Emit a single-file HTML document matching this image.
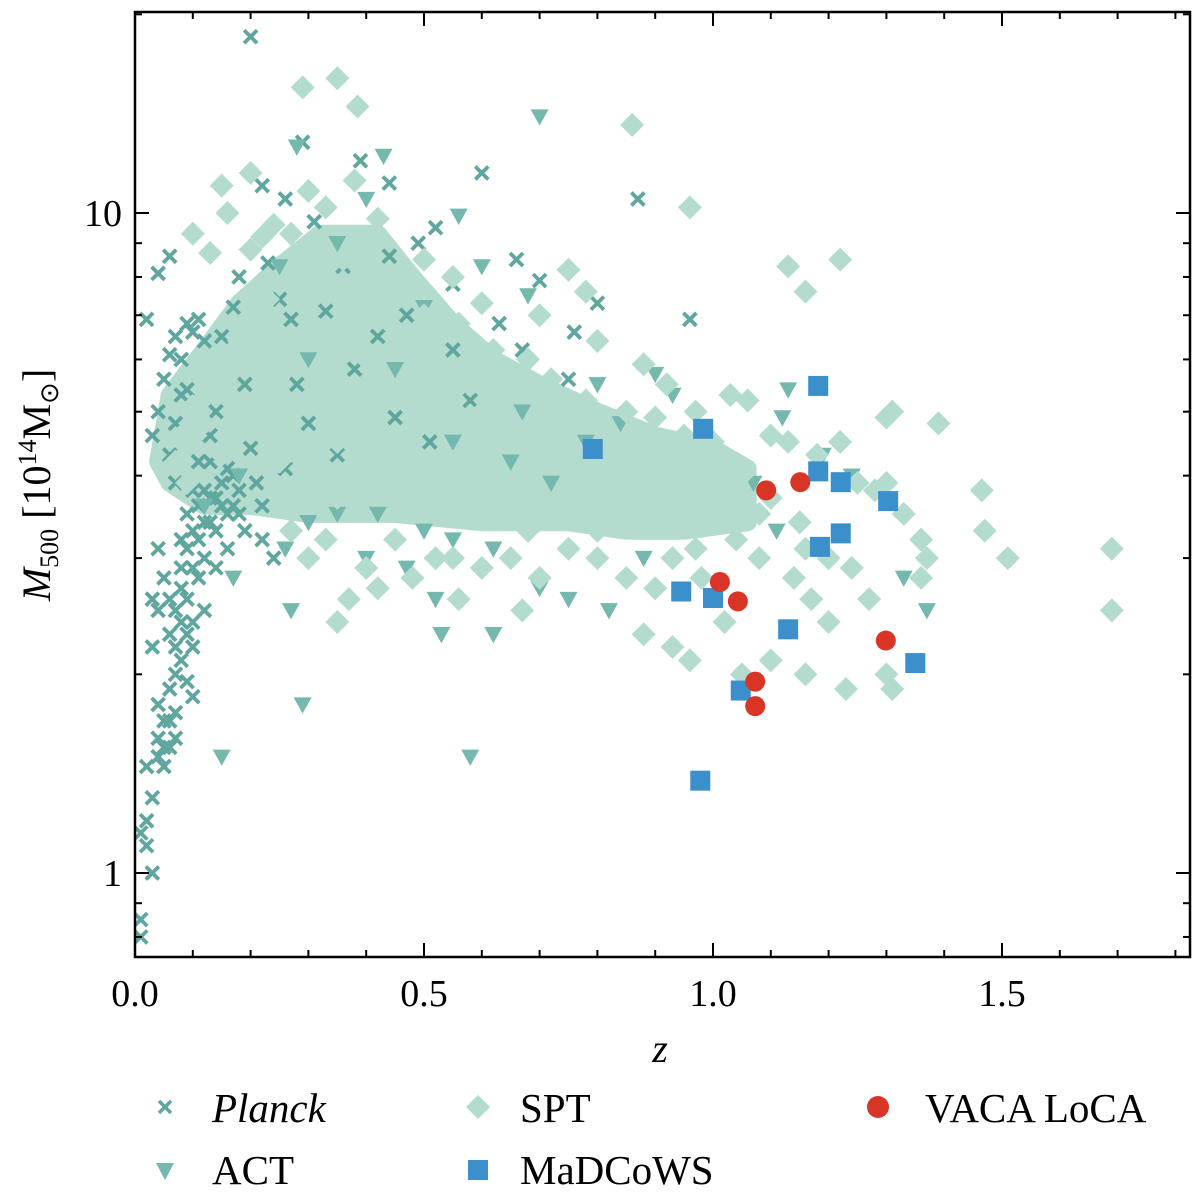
<!DOCTYPE html>
<html><head><meta charset="utf-8"><style>
body{margin:0;background:#fff}
svg{display:block;font-family:"Liberation Serif",serif}
</style></head><body>
<svg id="chart" width="1200" height="1200" viewBox="0 0 1200 1200">
<defs><clipPath id="clip"><rect x="135" y="12" width="1055" height="945"/></clipPath></defs>
<g id="marks" clip-path="url(#clip)"></g>
<g id="axes"></g>
<g id="legend"></g>
</svg>
<script>
const planckPts=[[0.01,0.85],[0.01,0.8],[0.01,1.15],[0.02,1.2],[0.02,1.1],[0.03,1.0],[0.03,1.3],[0.02,1.45],[0.04,1.5],[0.04,1.6],[0.05,1.55],[0.06,1.55],[0.05,1.7],[0.04,1.8],[0.06,1.9],[0.07,1.75],[0.07,2.0],[0.08,2.1],[0.09,1.95],[0.1,1.85],[0.1,2.2],[0.06,2.3],[0.07,2.5],[0.08,2.7],[0.09,2.6],[0.1,2.4],[0.11,2.8],[0.12,3.0],[0.08,3.2],[0.09,3.5],[0.1,3.3],[0.11,3.6],[0.12,3.8],[0.13,3.4],[0.14,3.7],[0.15,3.9],[0.16,3.5],[0.17,3.6],[0.18,3.8],[0.07,3.9],[0.05,2.8],[0.04,2.5],[0.03,2.2],[0.03,2.6],[0.04,3.1],[0.06,4.3],[0.07,4.8],[0.08,5.3],[0.06,6.1],[0.07,6.5],[0.09,6.8],[0.1,6.6],[0.11,6.9],[0.12,6.4],[0.08,6.0],[0.05,5.6],[0.04,5.0],[0.03,4.6],[0.02,6.9],[0.04,8.1],[0.06,8.6],[0.09,5.4],[0.11,4.2],[0.13,4.6],[0.14,5.0],[0.12,2.5],[0.14,2.9],[0.16,3.1],[0.19,3.3],[0.2,4.4],[0.21,3.9],[0.22,3.2],[0.24,3.0],[0.18,8.0],[0.2,18.5],[0.22,11],[0.26,10.5],[0.29,12.8],[0.31,9.7],[0.36,8.3],[0.44,11.1],[0.49,9.0],[0.52,9.5],[0.55,7.8],[0.6,11.5],[0.66,8.5],[0.67,6.2],[0.76,6.6],[0.8,7.3],[0.87,10.5],[0.96,6.9],[0.55,6.2],[0.47,7.0],[0.33,7.1],[0.27,6.9],[0.25,7.4],[0.28,5.5],[0.38,5.8],[0.42,6.5],[0.3,4.8],[0.35,4.3],[0.45,4.9],[0.51,4.5],[0.58,5.2],[0.63,6.8],[0.7,7.9],[0.75,5.6],[0.39,12],[0.44,8.6],[0.23,8.4],[0.17,7.2],[0.15,6.5],[0.19,5.5],[0.22,3.6],[0.26,4.1],[0.08,2.9],[0.09,3.1],[0.1,2.9],[0.11,3.2],[0.12,3.4],[0.13,3.7],[0.14,3.3],[0.15,3.6],[0.16,4.1],[0.17,4.0],[0.18,3.5],[0.07,2.2],[0.08,2.4],[0.09,2.3],[0.06,1.7],[0.07,1.6],[0.05,1.45],[0.06,2.6],[0.1,3.8],[0.13,4.2]];
const actPts=[[0.15,1.5],[0.29,1.8],[0.58,1.5],[0.7,14],[0.26,3.1],[0.3,3.4],[0.35,3.5],[0.42,3.5],[0.5,3.3],[0.55,3.2],[0.62,3.1],[0.7,2.7],[0.75,2.6],[0.82,2.5],[0.47,2.9],[0.52,2.6],[0.4,3.0],[0.53,2.3],[0.62,2.3],[0.17,2.8],[0.27,2.5],[0.88,3.0],[0.9,5.7],[0.93,5.3],[1.13,5.4],[1.12,4.9],[1.07,3.9],[1.11,3.3],[1.24,4.0],[1.33,2.8],[1.37,2.5],[1.19,4.3],[0.28,12.6],[0.43,12.2],[0.56,9.9],[0.6,8.3],[0.68,7.5],[0.8,5.5],[0.84,4.8],[0.3,6.0],[0.45,5.8],[0.55,4.5],[0.65,4.2],[0.72,3.9],[0.35,9.0],[0.25,8.3],[0.4,10.5],[0.12,3.6],[0.18,4.0],[0.5,7.2],[0.67,5.0],[0.78,4.5]];
const sptCore=[[0.04,4.2],[0.06,5.3],[0.12,6.2],[0.18,7.3],[0.25,8.3],[0.32,9.3],[0.42,9.3],[0.48,8.0],[0.55,6.8],[0.62,6.0],[0.7,5.5],[0.8,5.0],[0.9,4.6],[1.0,4.4],[1.06,4.1],[1.06,3.4],[0.95,3.3],[0.85,3.3],[0.75,3.4],[0.6,3.4],[0.45,3.5],[0.3,3.5],[0.2,3.6],[0.12,3.6],[0.06,3.9]];
const sptPts=[[0.29,15.5],[0.35,16],[0.385,14.5],[0.86,13.6],[0.96,10.2],[1.13,8.3],[1.22,8.5],[1.16,7.6],[1.69,3.1],[1.69,2.5],[1.51,3.0],[1.465,3.8],[1.47,3.3],[1.39,4.8],[1.31,5.0],[1.3,4.9],[0.15,11],[0.16,10],[0.2,11.5],[0.24,9.6],[0.3,10.8],[0.38,11.2],[0.42,9.8],[0.33,10.2],[0.27,9.3],[0.2,8.8],[0.22,9.2],[0.1,9.3],[0.13,8.7],[0.5,8.5],[0.55,8.0],[0.6,7.3],[0.7,7.0],[0.75,8.2],[0.78,7.6],[0.8,6.4],[0.88,5.9],[0.92,5.5],[0.97,5.0],[1.03,5.3],[1.06,5.2],[1.1,4.6],[1.13,4.5],[1.18,4.3],[1.22,4.5],[1.25,3.9],[1.28,3.8],[1.3,3.9],[1.33,3.5],[1.36,3.2],[1.37,3.0],[1.36,2.8],[1.27,2.6],[1.24,2.9],[1.2,3.0],[1.16,3.1],[1.14,2.8],[1.08,3.0],[1.04,3.2],[1.0,3.4],[0.97,3.1],[0.93,3.0],[0.9,2.7],[0.88,2.3],[0.93,2.2],[0.96,2.1],[1.05,2.0],[1.1,2.1],[1.16,2.0],[1.23,1.9],[1.3,2.0],[1.31,1.9],[1.2,2.4],[1.17,2.6],[1.02,2.4],[0.98,2.8],[0.85,2.8],[0.8,3.0],[0.75,3.1],[0.7,2.8],[0.67,2.5],[0.65,3.0],[0.6,2.9],[0.56,2.6],[0.52,3.0],[0.48,2.8],[0.42,2.7],[0.37,2.6],[0.35,2.4],[0.4,2.9],[0.3,3.0],[0.27,3.3],[0.33,3.2],[0.45,3.2],[0.55,3.0],[0.68,3.3],[0.8,3.3],[0.85,3.6],[0.92,3.8],[0.98,4.0],[1.05,4.0],[1.1,3.7],[1.15,3.4],[1.08,3.5],[0.1,5.1],[0.08,4.6],[0.07,4.2],[0.09,3.9],[0.12,4.8],[0.15,6.0],[0.18,6.4],[0.2,7.0],[0.23,7.4],[0.28,8.3],[0.32,8.0],[0.36,8.5],[0.4,8.3],[0.45,7.5],[0.5,7.0],[0.56,6.8],[0.62,6.2],[0.68,6.0],[0.72,5.6],[0.78,5.2],[0.85,5.0],[0.9,4.9],[0.95,4.6],[1.0,4.5],[0.3,6.5],[0.4,6.0],[0.5,5.5],[0.6,5.0],[0.7,4.6],[0.8,4.2],[0.9,4.0],[0.2,5.0],[0.35,4.5],[0.45,4.0],[0.55,4.2],[0.65,3.8],[0.75,3.7],[0.25,4.2],[0.15,4.3],[0.4,3.8],[0.35,3.7],[0.58,3.7],[0.7,3.5]];
const madPts=[[0.792,4.39],[0.983,4.71],[1.182,5.47],[1.182,4.06],[1.221,3.91],[1.303,3.66],[1.185,3.12],[1.221,3.27],[0.945,2.67],[1.0,2.61],[1.13,2.34],[1.35,2.08],[1.048,1.89],[0.978,1.38]];
const vacaPts=[[1.092,3.80],[1.151,3.91],[1.012,2.76],[1.043,2.58],[1.299,2.25],[1.073,1.95],[1.073,1.79]];
const xTicks=[0,0.5,1.0,1.5];
const xTickLabels=["0.0","0.5","1.0","1.5"];
const yTicks=[1,10];
const yTickLabels=["1","10"];

const X0=135,X1=1190,Y0=12,Y1=957;
const sx=z=>135+z*578;
const sy=m=>873-Math.log10(m)*660;
const NS="http://www.w3.org/2000/svg";
function mk(tag,attrs,parent){const e=document.createElementNS(NS,tag);for(const k in attrs)e.setAttribute(k,attrs[k]);parent.appendChild(e);return e;}
const marks=document.getElementById('marks'),axes=document.getElementById('axes');
const cPl="#5fa69e",cAct="#74b8ae",cSpt="#b3dccf",cMad="#3b8fca",cVa="#d93526";
function xMark(p,x,y,s){return mk('path',{d:`M${x-s} ${y-s}L${x+s} ${y+s}M${x-s} ${y+s}L${x+s} ${y-s}`,stroke:cPl,'stroke-width':3.8,fill:'none'},p);}
function tri(p,x,y,s,c){return mk('path',{d:`M${x-s} ${y-s*0.8}L${x+s} ${y-s*0.8}L${x} ${y+s}Z`,fill:c},p);}
function dia(p,x,y,s,c){return mk('path',{d:`M${x} ${y-s}L${x+s} ${y}L${x} ${y+s}L${x-s} ${y}Z`,fill:c},p);}

const core=mk('path',{d:'M'+sptCore.map(p=>sx(p[0])+' '+sy(p[1])).join('L')+'Z',fill:cSpt,stroke:cSpt,'stroke-width':18,'stroke-linejoin':'round'},marks);


planckPts.forEach(p=>{const e=xMark(marks,sx(p[0]),sy(p[1]),6.5);

});
actPts.forEach(p=>{const e=tri(marks,sx(p[0]),sy(p[1]),9,cAct);

});
sptPts.forEach(p=>{const e=dia(marks,sx(p[0]),sy(p[1]),12,cSpt);

});
madPts.forEach(p=>{const e=mk('rect',{x:sx(p[0])-10,y:sy(p[1])-10,width:20,height:20,fill:cMad},marks);

});
vacaPts.forEach(p=>{const e=mk('circle',{cx:sx(p[0]),cy:sy(p[1]),r:10,fill:cVa},marks);

});

const fr=mk('rect',{x:X0,y:Y0,width:X1-X0,height:Y1-Y0,fill:'none',stroke:'#000','stroke-width':2.5},axes);


for(let i=0;i<=18;i++){const z=i/10,x=sx(z);const major=i%5===0;const L=major?14:7;
mk('line',{x1:x,x2:x,y1:Y1,y2:Y1-L,stroke:'#000','stroke-width':2},axes);
mk('line',{x1:x,x2:x,y1:Y0,y2:Y0+L,stroke:'#000','stroke-width':2},axes);}
xTicks.forEach((z,i)=>{const t=mk('text',{x:sx(z),y:1006,'font-size':38,'text-anchor':'middle'},axes);t.textContent=xTickLabels[i];

});
[0.8,0.9,1,2,3,4,5,6,7,8,9,10,20].forEach(m=>{const y=sy(m);if(y<Y0||y>Y1)return;const major=(m===1||m===10);const L=major?14:7;
mk('line',{x1:X0,x2:X0+L,y1:y,y2:y,stroke:'#000','stroke-width':2},axes);
mk('line',{x1:X1,x2:X1-L,y1:y,y2:y,stroke:'#000','stroke-width':2},axes);});
yTicks.forEach((m,i)=>{const t=mk('text',{x:122,y:sy(m)+13,'font-size':38,'text-anchor':'end'},axes);t.textContent=yTickLabels[i];

});
</script>
<svg style="position:absolute;left:0;top:0" width="1200" height="1200">
<text x="660" y="1062" font-size="40" font-style="italic" text-anchor="middle" font-family="Liberation Serif, serif">z</text>
<text transform="translate(50,485) rotate(-90)" font-size="40" text-anchor="middle" font-family="Liberation Serif, serif"><tspan font-style="italic">M</tspan><tspan font-size="26" dy="8">500</tspan><tspan dy="-8"> [10</tspan><tspan font-size="26" dy="-14">14</tspan><tspan dy="14">M</tspan><tspan font-size="26" dy="8">⊙</tspan><tspan dy="-8">]</tspan></text>
<g font-family="Liberation Serif, serif" font-size="41">
<g><path d="M159 1101L171 1113M159 1113L171 1101" stroke="#5fa69e" stroke-width="3.5"/><text x="212" y="1122" font-style="italic">Planck</text></g>
<g><path d="M156 1163L174 1163L165 1180Z" fill="#74b8ae"/><text x="212" y="1184">ACT</text></g>
<g><path d="M478 1095L490 1107L478 1119L466 1107Z" fill="#b3dccf"/><text x="520" y="1122">SPT</text></g>
<g><rect x="468" y="1160" width="20" height="20" fill="#3b8fca"/><text x="520" y="1184">MaDCoWS</text></g>
<g><circle cx="878" cy="1107" r="11" fill="#d93526"/><text x="925" y="1122">VACA LoCA</text></g>
</g>
</svg>
</body></html>
